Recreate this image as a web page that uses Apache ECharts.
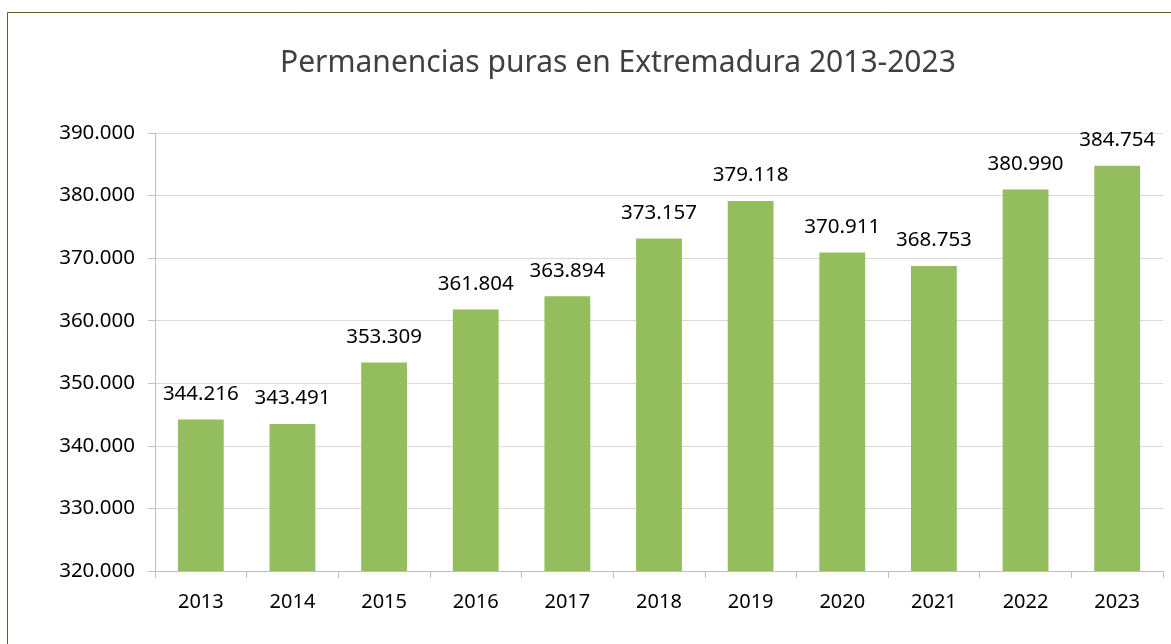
<!DOCTYPE html>
<html>
<head>
<meta charset="utf-8">
<title>Permanencias puras en Extremadura 2013-2023</title>
<style>
  html, body { margin: 0; padding: 0; background: #fff; }
  #chart { width: 1171px; height: 644px; }
</style>
</head>
<body>
<div id="chart"></div>
<script src="https://cdn.jsdelivr.net/npm/echarts@6/dist/echarts.min.js"></script>
<script>
// años y permanencias puras
var years = ['2013', '2014', '2015', '2016', '2017', '2018', '2019', '2020', '2021', '2022', '2023'];
var permanencias = [344216, 343491, 353309, 361804, 363894, 373157, 379118, 370911, 368753, 380990, 384754];

// 344216 -> "344.216"
function puntos(v) {
    return String(Math.round(v)).replace(/\B(?=(\d{3})+(?!\d))/g, '.');
}

var font = 'Noto Sans';
var myChart = echarts.init(document.getElementById('chart'));
var option = {
    animation: false,
    graphic: [{
        type: 'rect',
        shape: { x: 7.5, y: 12.5, width: 1180, height: 660 },
        style: { fill: 'none', stroke: '#4F6228', lineWidth: 1 },
        silent: true
    }],
    title: {
        text: 'Permanencias puras en Extremadura 2013-2023',
        left: 275,
        top: 43,
        textStyle: { fontFamily: font, fontSize: 30, fontWeight: 'normal', color: '#404040' }
    },
    grid: { left: 155, right: 8, top: 133, bottom: 73 },
    xAxis: {
        type: 'category',
        data: years,
        axisLine: { lineStyle: { color: '#BFBFBF' } },
        axisTick: { show: true, alignWithLabel: false, length: 7, lineStyle: { color: '#BFBFBF' } },
        axisLabel: { fontFamily: font, fontSize: 20, color: '#000', margin: 21 }
    },
    yAxis: {
        type: 'value',
        min: 320000,
        max: 390000,
        interval: 10000,
        axisLine: { show: true, lineStyle: { color: '#BFBFBF' } },
        axisTick: { show: true, inside: false, length: 7, lineStyle: { color: '#BFBFBF' } },
        splitLine: { lineStyle: { color: '#D9D9D9' } },
        axisLabel: {
            fontFamily: font, fontSize: 20.5, color: '#000', margin: 20,
            formatter: function (v) { return puntos(v); }
        }
    },
    series: [{
        name: 'Permanencias',
        type: 'bar',
        data: permanencias,
        barWidth: '50%',
        itemStyle: { color: '#94BD5E' },
        label: {
            show: true,
            position: 'top',
            distance: 15,
            fontFamily: font,
            fontSize: 20.5,
            color: '#000',
            formatter: function (p) { return puntos(p.value); }
        }
    }]
};
myChart.setOption(option);
</script>
</body>
</html>
